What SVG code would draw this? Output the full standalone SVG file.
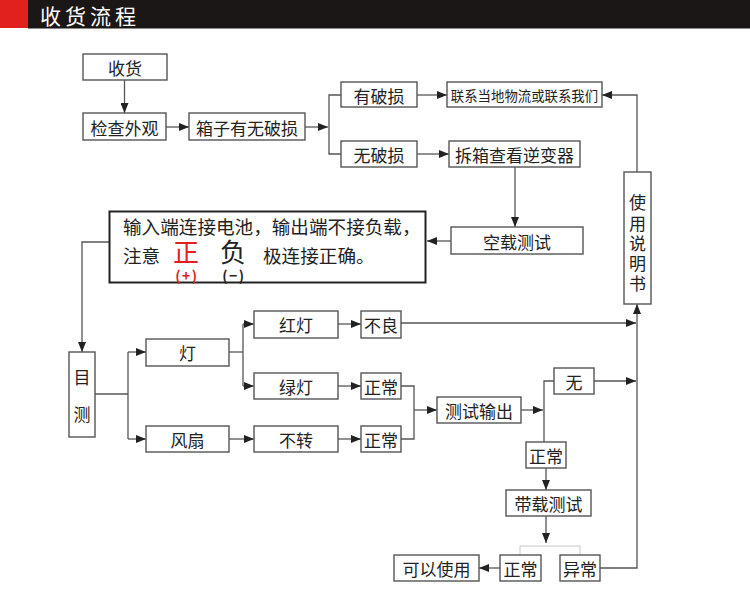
<svg xmlns="http://www.w3.org/2000/svg" width="750" height="595" viewBox="0 0 750 595">
<style>
  .box { fill: #fff; stroke: #555; stroke-width: 1.4; }
  .t { font-family: "Noto Sans CJK SC", "Noto Sans", sans-serif; font-size: 17px; fill: #222; text-anchor: middle; dominant-baseline: central; }
  .v { font-family: "Noto Sans CJK SC", "Noto Sans", sans-serif; font-size: 17px; fill: #222; writing-mode: vertical-rl; text-anchor: start; }
  .ts { font-size: 13.4px; }
  .c { fill: none; stroke: #555; stroke-width: 1.3; }
  .ca { fill: none; stroke: #555; stroke-width: 1.3; marker-end: url(#ah); }
  .big { font-family: "Noto Sans CJK SC", "Noto Sans", sans-serif; font-size: 18.6px; fill: #222; dominant-baseline: central; }
  .pol { font-family: "Noto Sans CJK SC", "Noto Sans", sans-serif; text-anchor: middle; dominant-baseline: central; }
  .sign { font-family: "Noto Sans CJK SC", "Noto Sans", sans-serif; text-anchor: middle; dominant-baseline: central; font-size: 14px; letter-spacing: 1.5px; font-weight: bold; }
</style>
<defs>
  <marker id="ah" markerWidth="10" markerHeight="8" refX="10" refY="4" orient="auto" markerUnits="userSpaceOnUse">
    <path d="M0,0 L10,4 L0,8 Z" fill="#222"/>
  </marker>
</defs>
<rect width="750" height="595" fill="#fff"/>
<g id="header">
  <rect x="0" y="0" width="750" height="28" fill="#1a1716"/>
  <rect x="0" y="0" width="28" height="28" fill="#e0211e"/>
  <line x1="28" y1="28.5" x2="750" y2="28.5" stroke="#8a8a8a" stroke-width="1"/>
  <text x="40" y="15" style="font-family:'Noto Sans CJK SC','Noto Sans',sans-serif;font-size:21px;fill:#fff;letter-spacing:4px;dominant-baseline:central">收货流程</text>
</g>
<g id="connectors">
  <line class="ca" x1="124.5" y1="80" x2="124.5" y2="113"/>
  <line class="ca" x1="166" y1="127" x2="189" y2="127"/>
  <line class="ca" x1="305" y1="127" x2="328" y2="127"/>
  <polyline class="c" points="341,95 329,95 329,154 341,154"/>
  <line class="ca" x1="417" y1="95" x2="447" y2="95"/>
  <line class="ca" x1="417" y1="154" x2="449" y2="154"/>
  <polyline class="ca" points="637,172 637,95 602,95"/>
  <line class="ca" x1="515" y1="167" x2="515" y2="227"/>
  <line class="ca" x1="451" y1="241" x2="427" y2="241"/>
  <polyline class="ca" points="109,242 82,242 82,352"/>
  <line class="c" x1="95" y1="394" x2="128" y2="394"/>
  <line class="c" x1="128" y1="352" x2="128" y2="439"/>
  <line class="ca" x1="128" y1="352" x2="146" y2="352"/>
  <line class="ca" x1="128" y1="439" x2="146" y2="439"/>
  <line class="c" x1="229" y1="352" x2="243" y2="352"/>
  <line class="c" x1="243" y1="324" x2="243" y2="386"/>
  <line class="ca" x1="243" y1="324" x2="254" y2="324"/>
  <line class="ca" x1="243" y1="386" x2="254" y2="386"/>
  <line class="ca" x1="229" y1="439" x2="254" y2="439"/>
  <line class="ca" x1="338" y1="324" x2="361" y2="324"/>
  <line class="ca" x1="338" y1="386" x2="361" y2="386"/>
  <line class="ca" x1="338" y1="439" x2="361" y2="439"/>
  <line class="ca" x1="401" y1="323" x2="636" y2="323"/>
  <polyline class="c" points="401,386 414,386 414,439 401,439"/>
  <line class="ca" x1="414" y1="410" x2="437" y2="410"/>
  <line class="ca" x1="521" y1="410" x2="543" y2="410"/>
  <polyline class="c" points="554,381 544,381 544,442"/>
  <line class="ca" x1="594" y1="381" x2="636" y2="381"/>
  <line class="ca" x1="546" y1="468" x2="546" y2="490"/>
  <line class="ca" x1="546" y1="516" x2="546" y2="543"/>
  <polyline fill="none" stroke="#c8c8c8" stroke-width="1" points="520,555 520,546 580,546 580,555"/>
  <line class="ca" x1="500" y1="568" x2="479" y2="568"/>
  <polyline class="ca" points="600,568 637,568 637,304"/>
</g>
<g id="n-shouhuo"><rect class="box" x="83" y="54" width="84" height="26"/><text class="t" x="125" y="67">收货</text></g>
<g id="n-jiancha"><rect class="box" x="83" y="113" width="83" height="27"/><text class="t" x="124.5" y="127">检查外观</text></g>
<g id="n-xiangzi"><rect class="box" x="189" y="113" width="116" height="27"/><text class="t" x="247" y="127">箱子有无破损</text></g>
<g id="n-youposun"><rect class="box" x="341" y="82" width="76" height="25"/><text class="t" x="379" y="95">有破损</text></g>
<g id="n-lianxi"><rect class="box" x="447" y="82" width="155" height="25"/><text class="t ts" x="524.5" y="95">联系当地物流或联系我们</text></g>
<g id="n-wuposun"><rect class="box" x="341" y="141" width="76" height="26"/><text class="t" x="379" y="154">无破损</text></g>
<g id="n-chaixiang"><rect class="box" x="449" y="141" width="131" height="26"/><text class="t" x="514.5" y="154">拆箱查看逆变器</text></g>
<g id="n-shiyong"><rect class="box" x="624" y="172" width="27" height="132"/>
  <text class="v" x="637.5" y="194.5" style="letter-spacing:3.2px">使用说明书</text></g>
<g id="n-kongzai"><rect class="box" x="451" y="227" width="132" height="27"/><text class="t" x="517" y="241">空载测试</text></g>
<g id="n-note"><rect x="109.5" y="211.5" width="316" height="71" fill="#fff" stroke="#222" stroke-width="2"/>
  <text class="big" x="123" y="225">输入端连接电池，输出端不接负载，</text>
  <text class="big" x="123" y="254">注意</text>
  <text class="pol" x="186" y="250" style="font-size:26px;fill:#e0211e">正</text>
  <text class="sign" x="187" y="275" style="fill:#e0211e">(+)</text>
  <text class="pol" x="233" y="250" style="font-size:26px;fill:#222">负</text>
  <text class="sign" x="234" y="275" style="fill:#222">(−)</text>
  <text class="big" x="263" y="254">极连接正确。</text></g>
<g id="n-muce"><rect class="box" x="69" y="352" width="26" height="85"/><text class="v" x="82" y="369.5" style="letter-spacing:20px">目测</text></g>
<g id="n-deng"><rect class="box" x="146" y="339" width="83" height="27"/><text class="t" x="187.5" y="352">灯</text></g>
<g id="n-fengshan"><rect class="box" x="146" y="426" width="83" height="26"/><text class="t" x="187.5" y="439">风扇</text></g>
<g id="n-hongdeng"><rect class="box" x="254" y="311" width="84" height="27"/><text class="t" x="296" y="324">红灯</text></g>
<g id="n-lvdeng"><rect class="box" x="254" y="373" width="84" height="26"/><text class="t" x="296" y="386">绿灯</text></g>
<g id="n-buzhuan"><rect class="box" x="254" y="426" width="84" height="26"/><text class="t" x="296" y="439">不转</text></g>
<g id="n-buliang"><rect class="box" x="361" y="311" width="40" height="27"/><text class="t" x="381" y="324">不良</text></g>
<g id="n-zhengchang1"><rect class="box" x="361" y="373" width="40" height="26"/><text class="t" x="381" y="386">正常</text></g>
<g id="n-zhengchang2"><rect class="box" x="361" y="426" width="40" height="26"/><text class="t" x="381" y="439">正常</text></g>
<g id="n-ceshishuchu"><rect class="box" x="437" y="397" width="84" height="26"/><text class="t" x="479" y="410">测试输出</text></g>
<g id="n-wu"><rect class="box" x="554" y="368" width="40" height="26"/><text class="t" x="574" y="381">无</text></g>
<g id="n-zhengchang3"><rect class="box" x="526" y="442" width="40" height="26"/><text class="t" x="546" y="455">正常</text></g>
<g id="n-daizai"><rect class="box" x="506" y="490" width="85" height="26"/><text class="t" x="548.5" y="503">带载测试</text></g>
<g id="n-keyi"><rect class="box" x="394" y="555" width="85" height="26"/><text class="t" x="436.5" y="568">可以使用</text></g>
<g id="n-zhengchang4"><rect class="box" x="500" y="555" width="41" height="26"/><text class="t" x="520.5" y="568">正常</text></g>
<g id="n-yichang"><rect class="box" x="560" y="555" width="40" height="26"/><text class="t" x="580" y="568">异常</text></g>
</svg>
